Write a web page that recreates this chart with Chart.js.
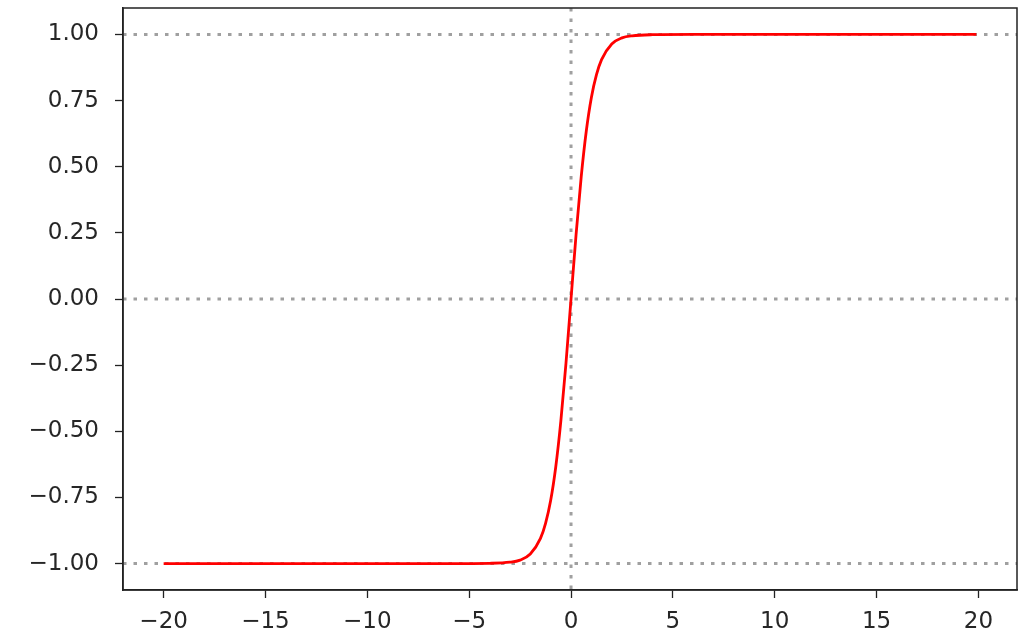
<!DOCTYPE html>
<html>
<head>
<meta charset="utf-8">
<script src="https://cdn.jsdelivr.net/npm/chart.js@4/dist/chart.umd.min.js"></script>
<style>
  html, body { margin: 0; padding: 0; background: #fff; }
  #wrap { width: 1018px; height: 633px; }
</style>
</head>
<body>
<div id="wrap"><canvas id="myChart"></canvas></div>
<script>
  'use strict';

  // values
  var xValues = [-20, -8, -6, -4, -3, -2.5, -2, -1.5, -1.25, -1, -0.75, -0.5, -0.25, 0,
                 0.25, 0.5, 0.75, 1, 1.25, 1.5, 2, 2.5, 3, 4, 6, 8, 19.9];
  var yValues = [-1, -1, -1, -0.999, -0.995, -0.987, -0.964, -0.905, -0.848, -0.762, -0.635, -0.462, -0.245, 0,
                 0.245, 0.462, 0.635, 0.762, 0.848, 0.905, 0.964, 0.987, 0.995, 0.999, 1, 1, 1];

  var xTicks = [-20, -15, -10, -5, 0, 5, 10, 15, 20];
  var yTicks = [-1, -0.75, -0.5, -0.25, 0, 0.25, 0.5, 0.75, 1];

  // dotted reference lines
  var refY = [-1, 0, 1];
  var refX = [0];

  var points = xValues.map(function (x, i) {
    return { x: x, y: yValues[i] };
  });

  function fmtTick(v) {
    return v.toFixed(2).replace('-', '\u2212');
  }

  /**
   * dotted guide lines, drawn under the curve
   */
  var guidePlugin = {
    id: 'guides',
    beforeDatasetsDraw: function (chart) {
      var ctx = chart.ctx;
      var a = chart.chartArea;
      var xs = chart.scales.x;
      var ys = chart.scales.y;
      ctx.save();
      ctx.beginPath();
      ctx.rect(a.left, a.top, a.right - a.left, a.bottom - a.top);
      ctx.clip();
      ctx.strokeStyle = 'rgba(128,128,128,0.75)';
      ctx.lineWidth = 3;
      ctx.setLineDash([3.5, 7]);
      refY.forEach(function (v) {
        var py = ys.getPixelForValue(v);
        ctx.beginPath();
        ctx.moveTo(a.left, py);
        ctx.lineTo(a.right, py);
        ctx.stroke();
      });
      refX.forEach(function (v) {
        var px = xs.getPixelForValue(v);
        ctx.beginPath();
        ctx.moveTo(px, a.top);
        ctx.lineTo(px, a.bottom);
        ctx.stroke();
      });
      ctx.restore();
    }
  };

  /**
   * box around the plot
   */
  var framePlugin = {
    id: 'frame',
    afterDraw: function (chart) {
      var ctx = chart.ctx;
      var a = chart.chartArea;
      ctx.save();
      ctx.strokeStyle = '#222';
      ctx.lineWidth = 1.5;
      ctx.strokeRect(a.left, a.top, a.right - a.left, a.bottom - a.top);
      ctx.restore();
    }
  };

  var tickFont = { family: 'DejaVu Sans', size: 23 };

  var ctx = document.getElementById('myChart').getContext('2d');

  var myChart = new Chart(ctx, {
    type: 'line',
    data: {
      datasets: [{
        data: points,
        borderColor: '#ff0000',
        borderWidth: 2.8,
        pointRadius: 0,
        fill: false,
        cubicInterpolationMode: 'monotone'
      }]
    },
    options: {
      responsive: true,
      maintainAspectRatio: false,
      animation: false,
      layout: { padding: { top: 8, right: 1, left: 0, bottom: 0 } },
      plugins: {
        legend: { display: false },
        tooltip: { enabled: false }
      },
      scales: {
        x: {
          type: 'linear',
          min: -21.995,
          max: 21.895,
          afterBuildTicks: function (scale) {
            scale.ticks = xTicks.map(function (v) { return { value: v }; });
          },
          afterFit: function (scale) {
            scale.height = 43;
            scale.paddingLeft = 0;
            scale.paddingRight = 0;
          },
          grid: { drawOnChartArea: false, tickLength: 8, tickColor: '#222', tickWidth: 1.3 },
          border: { display: true, color: '#222', width: 1.5 },
          ticks: {
            font: tickFont,
            color: '#262626',
            padding: 10,
            maxRotation: 0,
            autoSkip: false,
            callback: function (v) { return String(v).replace('-', '\u2212'); }
          }
        },
        y: {
          type: 'linear',
          min: -1.1,
          max: 1.1,
          afterBuildTicks: function (scale) {
            scale.ticks = yTicks.map(function (v) { return { value: v }; });
          },
          afterFit: function (scale) {
            scale.width = 123;
            scale.paddingTop = 0;
            scale.paddingBottom = 0;
          },
          grid: { drawOnChartArea: false, tickLength: 8, tickColor: '#222', tickWidth: 1.3 },
          border: { display: true, color: '#222', width: 1.5 },
          ticks: {
            font: tickFont,
            color: '#262626',
            padding: 16,
            autoSkip: false,
            callback: fmtTick
          }
        }
      }
    },
    plugins: [guidePlugin, framePlugin]
  });
</script>
</body>
</html>
